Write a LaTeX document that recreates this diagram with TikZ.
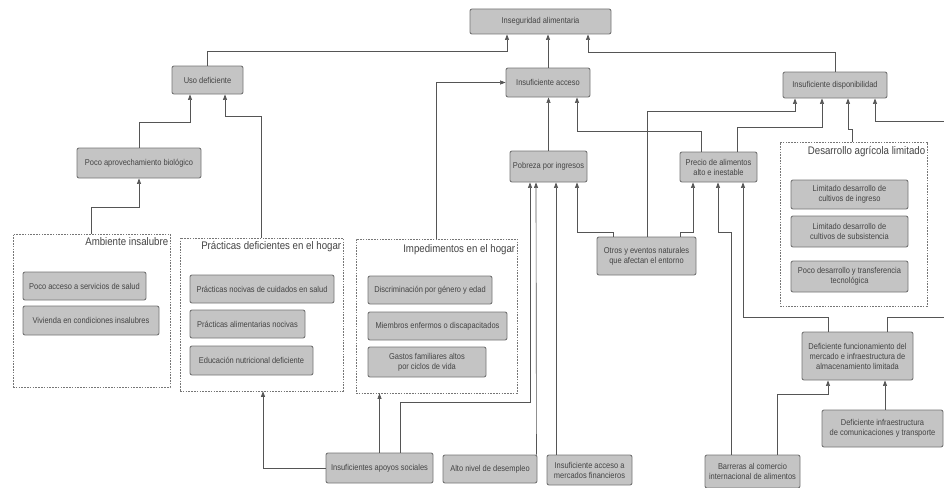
\documentclass[tikz,border=0pt]{standalone}
\usepackage{fontspec}
\setmainfont{Liberation Sans}[FakeStretch=0.88]
\usetikzlibrary{arrows.meta}
\definecolor{boxfill}{HTML}{C4C4C4}
\definecolor{boxline}{HTML}{767676}
\definecolor{linec}{HTML}{555555}
\definecolor{txt}{HTML}{444444}
\tikzset{
  bx/.style={draw=boxline, fill=boxfill, rounded corners=2pt, line width=0.9pt, text=txt, align=center, inner sep=1pt, font=\fontsize{8.5}{10}\selectfont},
  grp/.style={draw=boxline, dash pattern=on 1.6pt off 1.2pt, line width=0.75pt, fill=white},
  grptitle/.style={anchor=north east, text=txt, inner sep=1pt, font=\fontsize{11}{12}\selectfont},
  conn/.style={draw=linec, line width=0.65pt, -{Triangle[length=5.5pt,width=4pt]}},
}
\begin{document}
\begin{tikzpicture}[x=1pt,y=-1pt]
\clip (0,0) rectangle (944,487);
\fill[white] (0,0) rectangle (944,487);
% containers
\node[grp, minimum width=157pt, minimum height=153pt] (amb) at (91.5,310.5) {};
\node[grp, minimum width=163pt, minimum height=153pt] (prac) at (261.5,314.5) {};
\node[grp, minimum width=161pt, minimum height=154pt] (imp) at (436.5,316) {};
\node[grp, minimum width=147pt, minimum height=164pt] (des) at (853.5,224) {};
\node[grptitle] (ambt) at ([xshift=-1pt,yshift=-3pt]amb.north east) {Ambiente insalubre};
\node[grptitle] (pract) at ([xshift=-1pt,yshift=-3pt]prac.north east) {Prácticas deficientes en el hogar};
\node[grptitle] (impt) at ([xshift=-1pt,yshift=-5pt]imp.north east) {Impedimentos en el hogar};
\node[grptitle] (dest) at ([xshift=-1pt,yshift=-4pt]des.north east) {Desarrollo agrícola limitado};
% boxes
\node[bx, minimum width=141pt, minimum height=25pt] (top) at (540.5,21.5) {Inseguridad alimentaria};
\node[bx, minimum width=84pt, minimum height=29pt] (acceso) at (548,82.5) {Insuficiente acceso};
\node[bx, minimum width=71pt, minimum height=28pt] (uso) at (207.5,80) {Uso deficiente};
\node[bx, minimum width=104pt, minimum height=26pt] (disp) at (835,85) {Insuficiente disponibilidad};
\node[bx, minimum width=124pt, minimum height=30pt] (poco) at (139,163) {Poco aprovechamiento biológico};
\node[bx, minimum width=77pt, minimum height=31pt] (pobreza) at (548.5,166.5) {Pobreza por ingresos};
\node[bx, minimum width=77pt, minimum height=30pt] (precio) at (718.5,167) {Precio de alimentos\\alto e inestable};
\node[bx, minimum width=99pt, minimum height=38pt] (otros) at (646.5,256) {Otros y eventos naturales\\que afectan el entorno};
\node[bx, minimum width=111pt, minimum height=48pt] (defmerc) at (857.5,356) {Deficiente funcionamiento del\\mercado e infraestructura de\\almacenamiento limitada};
\node[bx, minimum width=121pt, minimum height=37pt] (definfra) at (882.5,428.5) {Deficiente infraestructura\\de comunicaciones y transporte};
\node[bx, minimum width=95pt, minimum height=33pt] (barreras) at (752.5,471.5) {Barreras al comercio\\internacional de alimentos};
\node[bx, minimum width=107pt, minimum height=30pt] (apoyos) at (379.5,468) {Insuficientes apoyos sociales};
\node[bx, minimum width=94pt, minimum height=28pt] (desempleo) at (490,469) {Alto nivel de desempleo};
\node[bx, minimum width=85pt, minimum height=30pt] (mercfin) at (589.5,470) {Insuficiente acceso a\\mercados financieros};
% inner boxes
\node[bx, minimum width=123pt, minimum height=28pt] (amb1) at (84.5,286) {Poco acceso a servicios de salud};
\node[bx, minimum width=136pt, minimum height=29pt] (amb2) at (91,320.5) {Vivienda en condiciones insalubres};
\node[bx, minimum width=144pt, minimum height=28pt] (prac1) at (262,289) {Prácticas nocivas de cuidados en salud};
\node[bx, minimum width=115pt, minimum height=28pt] (prac2) at (247.5,324) {Prácticas alimentarias nocivas};
\node[bx, minimum width=123pt, minimum height=29pt] (prac3) at (251.5,360.5) {Educación nutricional deficiente};
\node[bx, minimum width=124pt, minimum height=28pt] (imp1) at (430,290) {Discriminación por género y edad};
\node[bx, minimum width=139pt, minimum height=28pt] (imp2) at (437.5,326) {Miembros enfermos o discapacitados};
\node[bx, minimum width=118pt, minimum height=30pt] (imp3) at (427,362) {Gastos familiares altos\\por ciclos de vida};
\node[bx, minimum width=117pt, minimum height=29pt] (des1) at (849.5,194.5) {Limitado desarrollo de\\cultivos de ingreso};
\node[bx, minimum width=117pt, minimum height=31pt] (des2) at (849.5,231.5) {Limitado desarrollo de\\cultivos de subsistencia};
\node[bx, minimum width=117pt, minimum height=31pt] (des3) at (849.5,276.5) {Poco desarrollo y transferencia\\tecnológica};
% connectors
\draw[conn] (uso.north) -- ++(0,-14) -| ([xshift=-33.5pt]top.south);
\draw[conn] (acceso.north) -- (acceso.north |- top.south);
\draw[conn] (disp.north) -- ++(0,-19) -| ([xshift=47.5pt]top.south);
\draw[conn] (pobreza.north) -- (pobreza.north |- acceso.south);
\draw[conn] ([xshift=-17.5pt]precio.north) -- ++(0,-20) -| ([xshift=29pt]acceso.south);
\draw[conn] (imp.north) |- (acceso.west);
\draw[conn] (poco.north) -- ++(0,-25) -| ([xshift=-17.5pt]uso.south);
\draw[conn] (prac.north) -- ++(0,-121) -| ([xshift=17.5pt]uso.south);
\draw[conn] (amb.north) -- ++(0,-26) -| (poco.south);
\draw[conn] ([xshift=-33.5pt]otros.north) -- ++(0,-4) -| ([xshift=28.5pt]pobreza.south);
\draw[conn] ([xshift=0.5pt]otros.north) -- ++(0,-125) -| ([xshift=-40pt]disp.south);
\draw[conn] ([xshift=33.5pt]otros.north) -- ++(0,-4) -| ([xshift=-25.5pt]precio.south);
\draw[conn] ([xshift=18.5pt]precio.north) -- ++(0,-24) -| ([xshift=-13pt]disp.south);
\draw[conn] ([xshift=-1.5pt]des.north) -- ++(0,-12) -| ([xshift=13pt]disp.south);
\draw[conn] ([xshift=29.5pt]defmerc.north) -- ++(0,-14) -- ++(73,0) -- ++(0,-196) -| ([xshift=40pt]disp.south);
\draw[conn] ([xshift=-29.5pt]defmerc.north) -- ++(0,-14) -| ([xshift=24.5pt]precio.south);
\draw[conn] ([xshift=-21.5pt]barreras.north) -- ++(0,-222) -| ([xshift=-0.5pt]precio.south);
\draw[conn] ([xshift=24.5pt]barreras.north) -- ++(0,-60) -| ([xshift=-29.5pt]defmerc.south);
\draw[conn] ([xshift=2.5pt]definfra.north) -- ([xshift=27.5pt]defmerc.south);
\draw[conn] (apoyos.west) -| ([xshift=1.5pt]prac.south);
\draw[conn] (apoyos.north) -- (apoyos.north |- imp.south);
\draw[conn] ([xshift=20.5pt]apoyos.north) -- ++(0,-50) -| ([xshift=-18.5pt]pobreza.south);
\draw[conn] ([xshift=-1pt]desempleo.north east) -- ([xshift=-12.5pt]pobreza.south);
\draw[conn] ([xshift=-33.5pt]mercfin.north) -- ([xshift=7.5pt]pobreza.south);
\end{tikzpicture}
\end{document}
